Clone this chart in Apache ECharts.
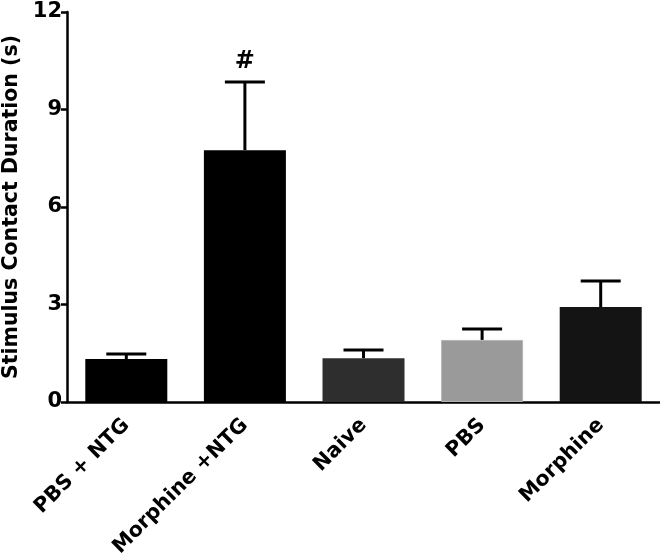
<!DOCTYPE html>
<html>
<head>
<meta charset="utf-8">
<script src="https://cdn.jsdelivr.net/npm/echarts@6/dist/echarts.min.js"></script>
<style>html,body{margin:0;padding:0;background:#fff}#c{width:660px;height:559px}</style>
</head>
<body>
<div id="c"></div>
<script>
const categories = ['PBS + NTG', 'Morphine +NTG', 'Naive', 'PBS', 'Morphine'];
const means = [1.32, 7.75, 1.35, 1.91, 2.92];
const errTops = [1.48, 9.85, 1.6, 2.25, 3.72];
const barColors = ['#000000', '#000000', '#2e2e2e', '#9a9a9a', '#141414'];
const yTicks = [0, 3, 6, 9, 12];
const marks = ['', '#', '', '', ''];

const chart = echarts.init(document.getElementById('c'));
const F = '"DejaVu Sans", sans-serif';
chart.setOption({
  animation: false,
  grid: {left: 67, right: 0, top: 12, bottom: 157, containLabel: false, outerBoundsMode: 'none'},
  xAxis: {
    type: 'category', data: categories,
    axisLine: {lineStyle: {color: '#000', width: 2.5}},
    axisTick: {alignWithLabel: true, length: 6, lineStyle: {color: '#000', width: 2.5}},
    axisLabel: {rotate: 45, color: '#000', fontFamily: F, fontWeight: 'bold', fontSize: 20.5, margin: 20, interval: 0}
  },
  yAxis: {
    type: 'value', min: 0, max: 12, interval: 3,
    name: 'Stimulus Contact Duration (s)', nameLocation: 'middle', nameGap: 35,
    nameTextStyle: {color: '#000', fontFamily: F, fontWeight: 'bold', fontSize: 20.5},
    axisLine: {show: true, lineStyle: {color: '#000', width: 2.5}},
    axisTick: {show: true, length: 6, lineStyle: {color: '#000', width: 2.5}},
    axisLabel: {color: '#000', fontFamily: F, fontWeight: 'bold', fontSize: 21, margin: 5,
      formatter: v => yTicks.includes(v) ? String(v) : ''},
    splitLine: {show: false}
  },
  series: [
    {
      type: 'bar', barWidth: 82, z: 2,
      data: means.map((v, i) => ({value: v, itemStyle: {color: barColors[i], borderColor: i === 3 ? '#b4b4b4' : barColors[i], borderWidth: i === 3 ? 1 : 0}}))
    },
    {
      type: 'custom', z: 3,
      data: errTops.map((t, i) => [i, means[i], t]),
      renderItem: function (params, api) {
        const i = api.value(0);
        const base = api.coord([i, api.value(1)]);
        const top = api.coord([i, api.value(2)]);
        const hw = 20;
        const style = {stroke: '#000', lineWidth: 3};
        const children = [
          {type: 'line', shape: {x1: top[0], y1: base[1], x2: top[0], y2: top[1]}, style},
          {type: 'line', shape: {x1: top[0] - hw, y1: top[1], x2: top[0] + hw, y2: top[1]}, style}
        ];
        const m = marks[i];
        if (m) {
          children.push({type: 'text', x: top[0], y: top[1] - 8,
            style: {text: m, fill: '#000', font: 'bold 24px "DejaVu Sans", sans-serif', align: 'center', verticalAlign: 'bottom'}});
        }
        return {type: 'group', children};
      }
    }
  ]
});
</script>
</body>
</html>
